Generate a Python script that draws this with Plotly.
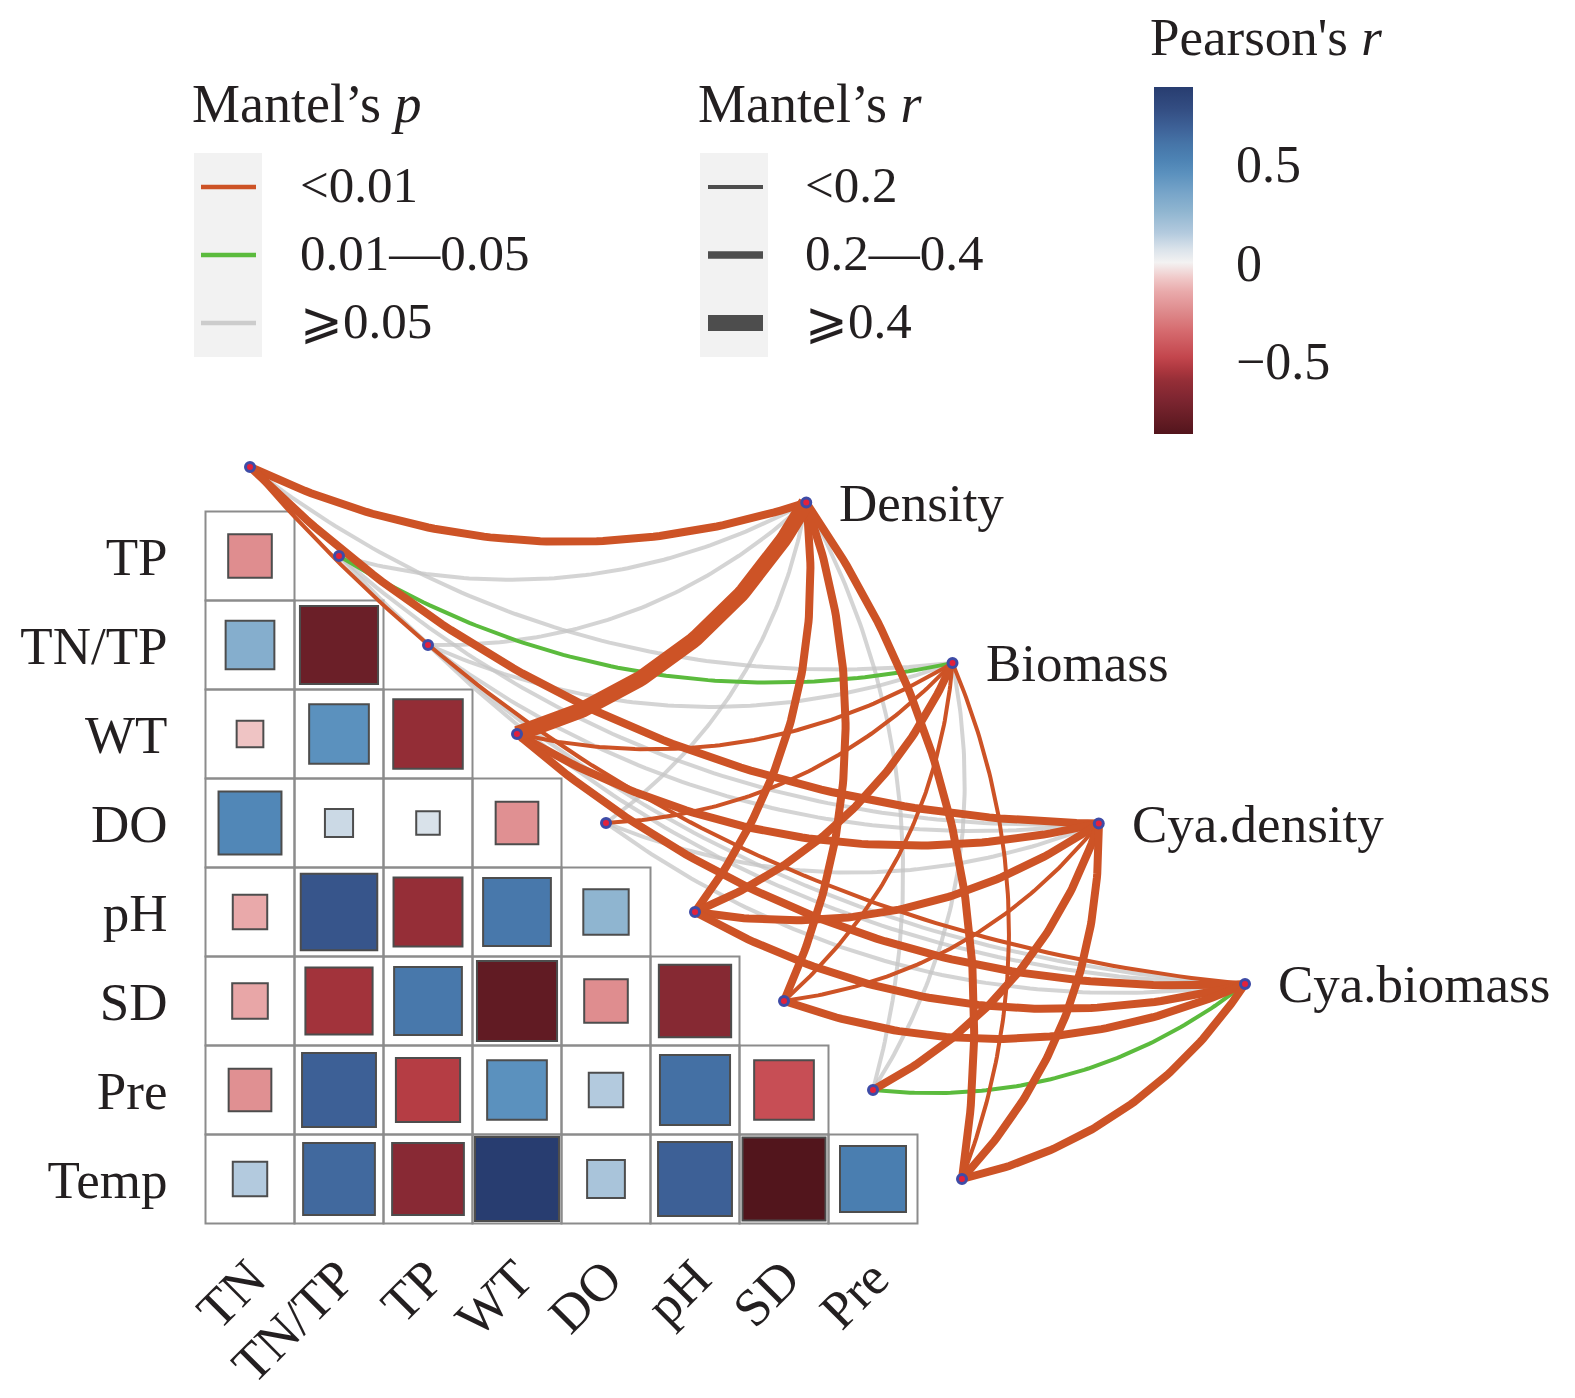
import numpy as np
import plotly.graph_objects as go
from plotly.colors import sample_colorscale

# ---------------- data ----------------
col_labels = ["TN", "TN/TP", "TP", "WT", "DO", "pH", "SD", "Pre"]
row_labels = ["TP", "TN/TP", "WT", "DO", "pH", "SD", "Pre", "Temp"]
env_vars = ["TN", "TN/TP", "TP", "WT", "DO", "pH", "SD", "Pre", "Temp"]
spec_vars = ["Density", "Biomass", "Cya.density", "Cya.biomass"]

# lower-triangle Pearson's r (row i has i+1 values, columns in col_labels order)
pearson_r = [
    [-0.24],
    [0.30, -0.77],
    [-0.09, 0.45, -0.61],
    [0.50, 0.10, 0.07, -0.23],
    [-0.15, 0.74, -0.60, 0.58, 0.26],
    [-0.16, -0.57, 0.58, -0.81, -0.24, -0.66],
    [-0.23, 0.69, -0.52, 0.45, 0.15, 0.62, -0.45],
    [0.15, 0.65, -0.65, 0.89, 0.18, 0.69, -0.87, 0.55],
]

# Mantel statistics: rows = env_vars, columns = spec_vars
mantel_r = [
    [0.32, 0.12, 0.30, 0.16],
    [0.10, 0.14, 0.09, 0.08],
    [0.06, 0.07, 0.05, 0.04],
    [0.48, 0.15, 0.31, 0.33],
    [0.05, 0.17, 0.06, 0.04],
    [0.34, 0.32, 0.36, 0.35],
    [0.29, 0.16, 0.18, 0.30],
    [0.08, 0.07, 0.27, 0.14],
    [0.33, 0.17, 0.29, 0.31],
]
mantel_p = [
    [0.001, 0.210, 0.001, 0.006],
    [0.320, 0.030, 0.410, 0.520],
    [0.600, 0.550, 0.700, 0.730],
    [0.001, 0.004, 0.001, 0.001],
    [0.440, 0.008, 0.380, 0.490],
    [0.001, 0.001, 0.001, 0.001],
    [0.001, 0.009, 0.005, 0.001],
    [0.270, 0.350, 0.002, 0.020],
    [0.001, 0.007, 0.001, 0.001],
]

# ---------------- layout constants ----------------
W, H = 1575, 1398
OFF = 6                                # page offset of the plot
OFF_T = 8                              # offset used for text annotations (includes padding)
X0, Y0, CELL = 248 - OFF, 554 - OFF, 89  # figure-pixel centre of first column / row, cell size
FONT = "Liberation Serif, Times New Roman, DejaVu Serif, serif"
TXT = "#231f20"
ORANGE = "#cd5326"
GREEN = "#5bbb3d"
GREY = "rgba(198,198,198,0.75)"
SPEC_START = (6.25, -0.60)            # layout of the response nodes (data units)
SPEC_END = (11.18, 4.81)

colorscale_anchors = [
    (-0.87, "#52151c"), (-0.80, "#641c24"), (-0.70, "#7c2530"), (-0.60, "#952e37"),
    (-0.55, "#aa363e"), (-0.48, "#c3464d"), (-0.35, "#d56a6e"), (-0.25, "#de8a8c"),
    (-0.15, "#e9a9aa"), (-0.08, "#f0c8c8"), (0.0, "#f3f2f2"), (0.07, "#d9e2ea"),
    (0.15, "#b3cade"), (0.26, "#8fb5d0"), (0.35, "#78a5c9"), (0.45, "#5b91be"),
    (0.52, "#4d83b4"), (0.60, "#4675a8"), (0.68, "#3e6298"), (0.78, "#334d82"),
    (0.89, "#283d70"),
]

all_r = [v for row in pearson_r for v in row]
cmin, cmax = min(all_r), max(all_r)
colorscale = [[(v - cmin) / (cmax - cmin), c] for v, c in colorscale_anchors]


def px(x, off=OFF):
    return (x - off) / W


def py(y, off=OFF):
    return 1 - (y - off) / H


def width_of(r):
    return 4 if r < 0.2 else (8 if r < 0.4 else 16)


def color_of(p):
    return ORANGE if p < 0.01 else (GREEN if p < 0.05 else GREY)


def curve(p0, p2, k=0.2, n=90):
    p0 = np.array(p0, float)
    p2 = np.array(p2, float)
    d = p2 - p0
    L = np.hypot(d[0], d[1])
    nrm = np.array([-d[1], d[0]]) / L
    c = (p0 + p2) / 2 + k * L * nrm
    t = np.linspace(0, 1, n)[:, None]
    pts = (1 - t) ** 2 * p0 + 2 * t * (1 - t) * c + t ** 2 * p2
    return pts[:, 0], pts[:, 1]


fig = go.Figure()
shapes = []
annotations = []

# ---------------- correlation heatmap ----------------
sq_x, sq_y, sq_v = [], [], []
for i, row in enumerate(pearson_r):
    for j, r in enumerate(row):
        shapes.append(dict(type="rect", xref="x", yref="y", x0=j - 0.5, x1=j + 0.5,
                           y0=i - 0.5, y1=i + 0.5, line=dict(color="#8c8c8c", width=2),
                           fillcolor="rgba(0,0,0,0)", layer="below"))
        h = 0.5 * np.sqrt(abs(r))
        col = sample_colorscale(colorscale, [(r - cmin) / (cmax - cmin)])[0]
        shapes.append(dict(type="rect", xref="x", yref="y", x0=j - h, x1=j + h,
                           y0=i - h, y1=i + h, line=dict(color="#4d4d4d", width=2),
                           fillcolor=col, layer="below"))
        sq_x.append(j)
        sq_y.append(i)
        sq_v.append(r)

# colour bar carrier trace
fig.add_trace(go.Scatter(
    x=sq_x, y=sq_y, mode="markers", hoverinfo="skip", showlegend=False,
    marker=dict(size=1, opacity=0, color=sq_v, colorscale=colorscale, cmin=cmin, cmax=cmax,
                showscale=True,
                colorbar=dict(x=(1149 - 3) / W, xanchor="left", y=py(85), yanchor="top",
                              len=347, lenmode="pixels", thickness=39, thicknessmode="pixels",
                              xpad=0, ypad=0, outlinewidth=0,
                              tickvals=[-0.5, 0, 0.5], ticktext=["\u22120.5", "0", "0.5"],
                              ticks="outside", ticklen=33, tickcolor="rgba(0,0,0,0)",
                              tickfont=dict(family=FONT, size=52, color=TXT))),
))

# white tick dashes on the colour bar
for v in [-0.5, 0, 0.5]:
    yy = 432 - (v - cmin) / (cmax - cmin) * 347
    for a, b in [(1149, 1162), (1175, 1188)]:
        shapes.append(dict(type="line", xref="paper", yref="paper", x0=px(a), x1=px(b),
                           y0=py(yy), y1=py(yy), line=dict(color="white", width=1.5),
                           layer="above"))

# ---------------- Mantel links ----------------
env_pos = [(i, i - 1) for i in range(len(env_vars))]
spec_pos = list(zip(np.linspace(SPEC_START[0], SPEC_END[0], len(spec_vars)),
                    np.linspace(SPEC_START[1], SPEC_END[1], len(spec_vars))))

edges = []
for i, e in enumerate(env_vars):
    for k, s in enumerate(spec_vars):
        r, p = mantel_r[i][k], mantel_p[i][k]
        rank = (0 if p >= 0.05 else (1 if p >= 0.01 else 2), width_of(r))
        edges.append((rank, i, k, r, p))
edges.sort(key=lambda t: t[0])
for rank, i, k, r, p in edges:
    xs, ys = curve(env_pos[i], spec_pos[k])
    fig.add_trace(go.Scatter(x=xs, y=ys, mode="lines", showlegend=False,
                             hovertext=f"{env_vars[i]} \u2192 {spec_vars[k]}: r={r}, p={p}",
                             hoverinfo="text",
                             line=dict(color=color_of(p), width=width_of(r))))

# nodes
nodes = env_pos + spec_pos
fig.add_trace(go.Scatter(
    x=[n[0] for n in nodes], y=[n[1] for n in nodes], mode="markers", showlegend=False,
    text=env_vars + spec_vars, hoverinfo="text",
    marker=dict(size=9, color="#e3213b", line=dict(color="#3e4ba6", width=3))))

for (sx, sy), name in zip(spec_pos, spec_vars):
    annotations.append(dict(x=sx, y=sy, xref="x", yref="y", text=name, showarrow=False,
                            xanchor="left", yanchor="middle", xshift=31,
                            font=dict(family=FONT, size=53, color=TXT)))

# ---------------- legends (Mantel's p / Mantel's r) ----------------
p_items = [("<0.01", ORANGE), ("0.01\u20140.05", GREEN), ("\u2a7e0.05", "#cccccc")]
r_items = [("<0.2", 4), ("0.2\u20140.4", 7.5), ("\u2a7e0.4", 16)]
key_y = [185, 253, 321]

for left, title in [(192, "Mantel\u2019s <i>p</i>"), (698, "Mantel\u2019s <i>r</i>")]:
    shapes.append(dict(type="rect", xref="paper", yref="paper", x0=px(left), x1=px(left + 68),
                       y0=py(355), y1=py(151), fillcolor="#f2f2f2", line=dict(width=0)))
    annotations.append(dict(x=px(left - 2, OFF_T), y=py(104, OFF_T), xref="paper", yref="paper",
                            text=title, showarrow=False, xanchor="left", yanchor="middle",
                            font=dict(family=FONT, size=54, color=TXT)))

for (lab, col), yy in zip(p_items, key_y):
    shapes.append(dict(type="line", xref="paper", yref="paper", x0=px(199), x1=px(254),
                       y0=py(yy), y1=py(yy), line=dict(color=col, width=4.5)))
    annotations.append(dict(x=px(298, OFF_T), y=py(yy, OFF_T), xref="paper", yref="paper",
                            text=lab, showarrow=False, xanchor="left", yanchor="middle",
                            font=dict(family=FONT, size=51, color=TXT)))

for (lab, w), yy in zip(r_items, key_y):
    shapes.append(dict(type="line", xref="paper", yref="paper", x0=px(706), x1=px(761),
                       y0=py(yy), y1=py(yy), line=dict(color="#4d4d4d", width=w)))
    annotations.append(dict(x=px(803, OFF_T), y=py(yy, OFF_T), xref="paper", yref="paper",
                            text=lab, showarrow=False, xanchor="left", yanchor="middle",
                            font=dict(family=FONT, size=51, color=TXT)))

# colour bar title
annotations.append(dict(x=px(1148, OFF_T), y=py(37, OFF_T), xref="paper", yref="paper",
                        text="Pearson's <i>r</i>", showarrow=False, xanchor="left",
                        yanchor="middle", font=dict(family=FONT, size=53, color=TXT)))

# ---------------- axes ----------------
n_rows = len(row_labels)
fig.update_layout(
    width=W, height=H, margin=dict(l=0, r=0, t=0, b=0),
    paper_bgcolor="white", plot_bgcolor="white", showlegend=False,
    shapes=shapes, annotations=annotations,
    xaxis=dict(range=[(0 - X0) / CELL, (W - X0) / CELL], domain=[0, 1],
               anchor="free", position=1 - (Y0 + CELL * (n_rows - 0.5)) / H,
               tickvals=list(range(len(col_labels))), ticktext=col_labels, tickangle=-45,
               ticks="", ticklabelstandoff=12, showgrid=False, zeroline=False, showline=False,
               tickfont=dict(family=FONT, size=53, color=TXT)),
    yaxis=dict(range=[(H - Y0) / CELL, (0 - Y0) / CELL], domain=[0, 1],
               anchor="free", position=(X0 - CELL / 2) / W,
               tickvals=list(range(n_rows)), ticktext=row_labels,
               ticks="", ticklabelstandoff=38, showgrid=False, zeroline=False, showline=False,
               tickfont=dict(family=FONT, size=53, color=TXT)),
)

fig.write_html("out.html")
